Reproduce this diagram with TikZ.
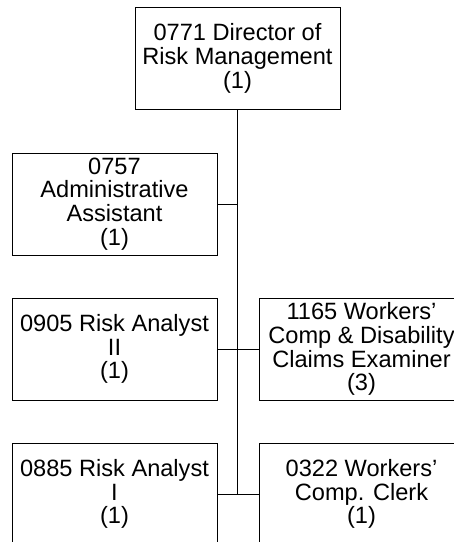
\documentclass[tikz,border=0pt]{standalone}
\usepackage{fontspec}
\setmainfont{Liberation Sans}
\tikzset{
  post/.style={draw, line width=0.9pt, rectangle, minimum width=205pt,
    minimum height=102pt, align=center, inner sep=0pt,
    font=\fontsize{23.6}{23.8}\selectfont},
  link/.style={line width=0.9pt}
}
\begin{document}
\begin{tikzpicture}[x=1pt,y=-1pt]
      \clip (0,0) rectangle (454,542);
      \draw
        (237.5,58.5) node[post] (dir){0771 Director of\\Risk Management\\(1)}
        (114.5,204) node[post] (admin){0757\\Administrative\\Assistant\\(1)}
        (114.5,349) node[post] (ra2){0905 Risk Analyst\\II\\(1)}
        (361.5,349) node[post] (wc){1165 Workers'\\Comp \& Disability\\Claims Examiner\\(3)}
        (114.5,494) node[post] (ra1){0885 Risk Analyst\\I\\(1)}
        (361.5,494) node[post] (clerk){0322 Workers'\\Comp. Clerk\\(1)};
      \begin{scope}[link]
        \draw (dir.south) to (dir.south |- ra1.east);
        \draw (admin.east) to (admin.east -| dir.south);
        \draw (ra2.east) to (wc.west);
        \draw (ra1.east) to (clerk.west);
      \end{scope}
    \end{tikzpicture}
\end{document}
